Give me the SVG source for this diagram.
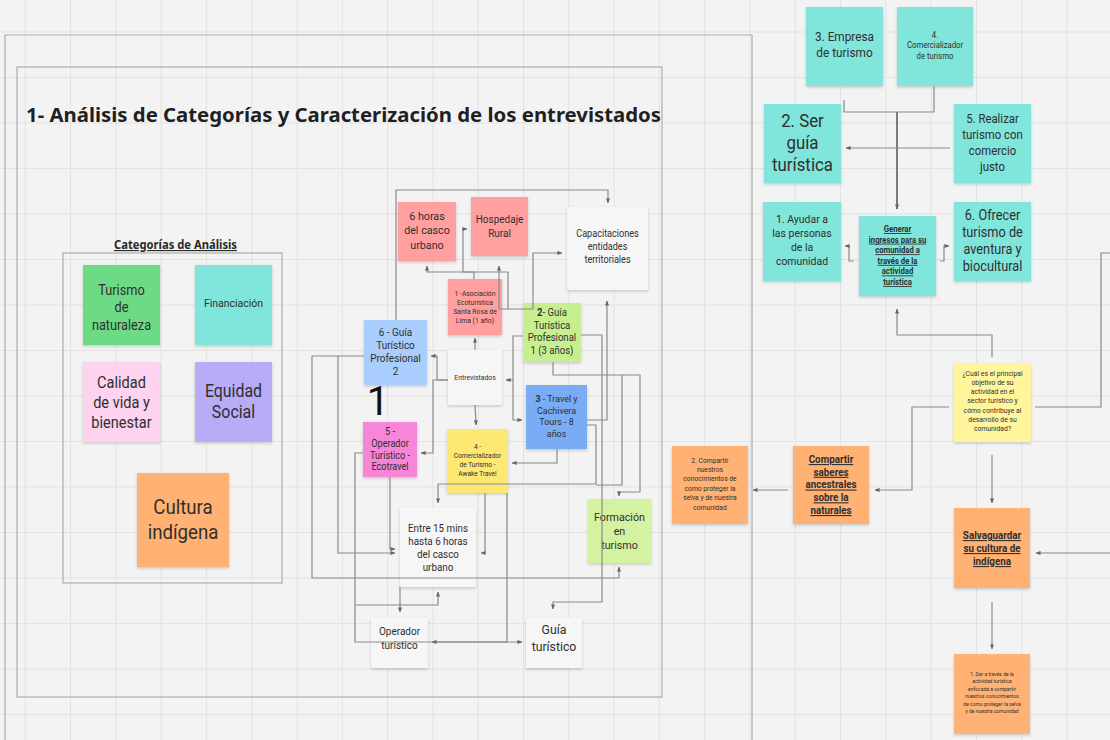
<svg xmlns="http://www.w3.org/2000/svg" width="1110" height="740" viewBox="0 0 1110 740">
<style>
.t{font-family:Roboto,"Noto Sans","Liberation Sans",sans-serif;fill:#2f2f2f;text-anchor:middle;transform-box:fill-box;transform-origin:center;transform:scaleX(.91)}
.b{font-weight:bold;text-decoration:underline}
.fr{fill:none;stroke:#adadad;stroke-width:1.2}
.c{fill:none;stroke:#8a8a8a;stroke-width:1.2;marker-end:url(#ah)}
.sh{filter:url(#sh)}
</style>
<defs>
<pattern id="grid" x="24.7" y="31.5" width="45.3" height="45.5" patternUnits="userSpaceOnUse">
<path d="M0 0.5H45.3M0.5 0V45.5" stroke="#e2e2e2" stroke-width="1" fill="none"/>
</pattern>
<filter id="sh" x="-20%" y="-20%" width="140%" height="140%">
<feDropShadow dx="0" dy="1.5" stdDeviation="1.5" flood-color="#000" flood-opacity="0.18"/>
</filter>
<marker id="ah" viewBox="0 0 6 6" refX="5.5" refY="3" markerWidth="5" markerHeight="5" orient="auto-start-reverse" markerUnits="userSpaceOnUse">
<path d="M0 0.5L6 3L0 5.5z" fill="#666"/>
</marker>
</defs>
<rect width="1110" height="740" fill="#f3f3f3"/>
<rect width="1110" height="740" fill="url(#grid)"/>

<g id="frames">
<path class="fr" d="M5 745V35H752V745"/>
<rect class="fr" x="17" y="67" width="645" height="630"/>
<rect class="fr" x="63" y="253" width="219" height="330"/>
</g>

<text x="26" y="122" font-family="Noto Sans, Open Sans, sans-serif" font-weight="bold" font-size="20" fill="#1f1f1f" textLength="635" lengthAdjust="spacingAndGlyphs">1- Análisis de Categorías y Caracterización de los entrevistados</text>
<text x="114" y="249" font-family="Noto Sans, Open Sans, sans-serif" font-weight="bold" font-size="11.5" fill="#2a2a2a" text-decoration="underline" textLength="123" lengthAdjust="spacingAndGlyphs">Categorías de Análisis</text>

<g id="n-turismo-naturaleza"><rect class="sh" x="83" y="265" width="77" height="80" fill="#6ddb85"/>
<text class="t" font-size="14"><tspan x="121.5" y="295">Turismo</tspan><tspan x="121.5" y="312.5">de</tspan><tspan x="121.5" y="330">naturaleza</tspan></text></g>
<g id="n-financiacion"><rect class="sh" x="195" y="265" width="77" height="80" fill="#80e5db"/>
<text class="t" font-size="11.5"><tspan x="233.5" y="307">Financiación</tspan></text></g>
<g id="n-calidad"><rect class="sh" x="83" y="362" width="77" height="80" fill="#fdd3f0"/>
<text class="t" font-size="16"><tspan x="121.5" y="388">Calidad</tspan><tspan x="121.5" y="408">de vida y</tspan><tspan x="121.5" y="428">bienestar</tspan></text></g>
<g id="n-equidad"><rect class="sh" x="195" y="362" width="77" height="80" fill="#b8abf8"/>
<text class="t" font-size="17.5"><tspan x="233.5" y="397">Equidad</tspan><tspan x="233.5" y="418">Social</tspan></text></g>
<g id="n-cultura"><rect class="sh" x="137" y="473" width="92" height="94" fill="#ffb273"/>
<text class="t" font-size="20.5"><tspan x="183" y="514">Cultura</tspan><tspan x="183" y="539">indígena</tspan></text></g>

<g id="n-seis-horas"><rect class="sh" x="398" y="202" width="58" height="59" fill="#ff9f9f"/>
<text class="t" font-size="11.8"><tspan x="427" y="220">6 horas</tspan><tspan x="427" y="234.5">del casco</tspan><tspan x="427" y="249">urbano</tspan></text></g>
<g id="n-hospedaje"><rect class="sh" x="471" y="197" width="57" height="59" fill="#ff9f9f"/>
<text class="t" font-size="11"><tspan x="499.5" y="223">Hospedaje</tspan><tspan x="499.5" y="237">Rural</tspan></text></g>
<g id="n-capacitaciones"><rect class="sh" x="567" y="207" width="81" height="83" fill="#f6f6f6"/>
<text class="t" font-size="10"><tspan x="607.5" y="237.5">Capacitaciones</tspan><tspan x="607.5" y="250.5">entidades</tspan><tspan x="607.5" y="263.5">territoriales</tspan></text></g>
<g id="n-asociacion"><rect class="sh" x="448" y="279" width="54" height="56" fill="#ff9f9f"/>
<text class="t" font-size="7.5"><tspan x="475" y="295.6">1 -Asociación</tspan><tspan x="475" y="304.6">Ecoturística</tspan><tspan x="475" y="313.6">Santa Rosa de</tspan><tspan x="475" y="322.6">Lima (1 año)</tspan></text></g>
<g id="n-guia-prof-1"><rect class="sh" x="523" y="303" width="58" height="59" fill="#c7ef8f"/>
<text class="t" font-size="10.5"><tspan x="552" y="316.5"><tspan font-weight="bold">2</tspan>- Guía</tspan><tspan x="552" y="329">Turística</tspan><tspan x="552" y="341.5">Profesional</tspan><tspan x="552" y="354">1 (3 años)</tspan></text></g>
<g id="n-seis-guia"><rect class="sh" x="364" y="320" width="63" height="65" fill="#a9cdfc"/>
<text class="t" font-size="11"><tspan x="395.5" y="336">6 - Guía</tspan><tspan x="395.5" y="349">Turístico</tspan><tspan x="395.5" y="362">Profesional</tspan><tspan x="395.5" y="375">2</tspan></text></g>
<g id="n-entrevistados"><rect class="sh" x="448" y="350" width="54" height="55" fill="#f6f6f6"/>
<text class="t" font-size="7.5"><tspan x="475" y="380">Entrevistados</tspan></text></g>
<g id="n-travel"><rect class="sh" x="526" y="385" width="61" height="64" fill="#7aabf5"/>
<text class="t" font-size="9.8"><tspan x="556.5" y="402"><tspan font-weight="bold">3</tspan> - Travel y</tspan><tspan x="556.5" y="413.7">Cachivera</tspan><tspan x="556.5" y="425.4">Tours - 8</tspan><tspan x="556.5" y="437.1">años</tspan></text></g>
<text x="378" y="415" font-family="Roboto, Noto Sans, sans-serif" font-size="40" fill="#111" text-anchor="middle">1</text>
<g id="n-ecotravel"><rect class="sh" x="363" y="422" width="54" height="55" fill="#f786d9"/>
<text class="t" font-size="10"><tspan x="390" y="435">5 -</tspan><tspan x="390" y="446.8">Operador</tspan><tspan x="390" y="458.6">Turístico -</tspan><tspan x="390" y="470.4">Ecotravel</tspan></text></g>
<g id="n-awake"><rect class="sh" x="447" y="429" width="61" height="64" fill="#fde873"/>
<text class="t" font-size="7.2"><tspan x="477.5" y="449.5">4 -</tspan><tspan x="477.5" y="458.2">Comercializador</tspan><tspan x="477.5" y="466.9">de Turismo -</tspan><tspan x="477.5" y="475.6">Awake Travel</tspan></text></g>
<g id="n-entre15"><rect class="sh" x="400" y="508" width="76" height="79" fill="#f6f6f6"/>
<text class="t" font-size="10.8"><tspan x="438" y="532">Entre 15 mins</tspan><tspan x="438" y="545">hasta 6 horas</tspan><tspan x="438" y="558">del casco</tspan><tspan x="438" y="571">urbano</tspan></text></g>
<g id="n-formacion"><rect class="sh" x="588" y="499" width="63" height="64" fill="#d5f2a1"/>
<text class="t" font-size="11.8"><tspan x="619.5" y="521">Formación</tspan><tspan x="619.5" y="535">en</tspan><tspan x="619.5" y="549">turismo</tspan></text></g>
<g id="n-operador-turistico"><rect class="sh" x="371" y="618" width="57" height="50" fill="#f6f6f6"/>
<text class="t" font-size="11"><tspan x="399.5" y="635">Operador</tspan><tspan x="399.5" y="649">turístico</tspan></text></g>
<g id="n-guia-turistico"><rect class="sh" x="526" y="618" width="56" height="50" fill="#f6f6f6"/>
<text class="t" font-size="13.5"><tspan x="554" y="634">Guía</tspan><tspan x="554" y="651">turístico</tspan></text></g>

<g id="n-empresa"><rect class="sh" x="806" y="7" width="77" height="79" fill="#80e5db"/>
<text class="t" font-size="13"><tspan x="844.5" y="41.5">3. Empresa</tspan><tspan x="844.5" y="57.5">de turismo</tspan></text></g>
<g id="n-comercializador"><rect class="sh" x="897" y="7" width="76" height="79" fill="#80e5db"/>
<text class="t" font-size="8.5"><tspan x="935" y="38">4.</tspan><tspan x="935" y="48.5">Comercializador</tspan><tspan x="935" y="59">de turismo</tspan></text></g>
<g id="n-ser-guia"><rect class="sh" x="764" y="104" width="77" height="79" fill="#80e5db"/>
<text class="t" font-size="18.5"><tspan x="802.5" y="127.5">2. Ser</tspan><tspan x="802.5" y="149.5">guía</tspan><tspan x="802.5" y="171.5">turística</tspan></text></g>
<g id="n-realizar"><rect class="sh" x="954" y="104" width="77" height="79" fill="#80e5db"/>
<text class="t" font-size="12.5"><tspan x="992.5" y="123.5">5. Realizar</tspan><tspan x="992.5" y="139.2">turismo con</tspan><tspan x="992.5" y="154.9">comercio</tspan><tspan x="992.5" y="170.6">justo</tspan></text></g>
<g id="n-ayudar"><rect class="sh" x="763" y="202" width="78" height="79" fill="#80e5db"/>
<text class="t" font-size="11.5"><tspan x="802" y="223">1. Ayudar a</tspan><tspan x="802" y="237">las personas</tspan><tspan x="802" y="251">de la</tspan><tspan x="802" y="265">comunidad</tspan></text></g>
<g id="n-generar"><rect class="sh" x="859" y="216" width="77" height="80" fill="#80e5db"/>
<text class="t b" font-size="8.5"><tspan x="897.5" y="232">Generar</tspan><tspan x="897.5" y="242.6">ingresos para su</tspan><tspan x="897.5" y="253.2">comunidad a</tspan><tspan x="897.5" y="263.8">través de la</tspan><tspan x="897.5" y="274.4">actividad</tspan><tspan x="897.5" y="285">turística</tspan></text></g>
<g id="n-ofrecer"><rect class="sh" x="954" y="202" width="77" height="79" fill="#80e5db"/>
<text class="t" font-size="14"><tspan x="992.5" y="220">6. Ofrecer</tspan><tspan x="992.5" y="237">turismo de</tspan><tspan x="992.5" y="254">aventura y</tspan><tspan x="992.5" y="271">biocultural</tspan></text></g>
<g id="n-pregunta"><rect class="sh" x="954" y="363" width="77" height="79" fill="#fff59d"/>
<text class="t" font-size="7.5"><tspan x="992.5" y="375.6">¿Cuál es el principal</tspan><tspan x="992.5" y="384.9">objetivo de su</tspan><tspan x="992.5" y="394.2">actividad  en el</tspan><tspan x="992.5" y="403.5">sector turístico y</tspan><tspan x="992.5" y="412.8">cómo contribuye al</tspan><tspan x="992.5" y="422.1">desarrollo de su</tspan><tspan x="992.5" y="431.4">comunidad?</tspan></text></g>
<g id="n-compartir-saberes"><rect class="sh" x="793" y="446" width="76" height="78" fill="#ffb273"/>
<text class="t b" font-size="10.8"><tspan x="831" y="463">Compartir</tspan><tspan x="831" y="475.75">saberes</tspan><tspan x="831" y="488.5">ancestrales</tspan><tspan x="831" y="501.25">sobre la</tspan><tspan x="831" y="514">naturales</tspan></text></g>
<g id="n-compartir-conocimientos"><rect class="sh" x="672" y="446" width="76" height="78" fill="#ffb273"/>
<text class="t" font-size="7.4"><tspan x="710" y="462.6">2. Compartir</tspan><tspan x="710" y="472">nuestros</tspan><tspan x="710" y="481.4">conocimientos de</tspan><tspan x="710" y="490.8">como proteger la</tspan><tspan x="710" y="500.2">selva y de nuestra</tspan><tspan x="710" y="509.6">comunidad</tspan></text></g>
<g id="n-salvaguardar"><rect class="sh" x="954" y="508" width="76" height="80" fill="#ffb273"/>
<text class="t b" font-size="10.8"><tspan x="992" y="539">Salvaguardar</tspan><tspan x="992" y="552">su cultura de</tspan><tspan x="992" y="565">indígena</tspan></text></g>
<g id="n-dar"><rect class="sh" x="954" y="654" width="76" height="80" fill="#ffb273"/>
<text class="t" font-size="5.5"><tspan x="992" y="676">1. Dar a través de la</tspan><tspan x="992" y="683.4">actividad turística</tspan><tspan x="992" y="690.8">enfocada a compartir</tspan><tspan x="992" y="698.2">nuestros conocimientos</tspan><tspan x="992" y="705.6">de como proteger la selva</tspan><tspan x="992" y="713">y de nuestra comunidad</tspan></text></g>

<g id="connectors">
<polyline class="c" style="marker-end:none" points="844,100 844,112 934,112 934,86"/>
<polyline class="c" style="stroke:#7a7a7a;stroke-width:2" points="897,112 897,209"/>
<polyline class="c" points="950,148 846,148"/>
<polyline class="c" points="854,261 849,261 849,246 845,246"/>
<polyline class="c" points="940,261 944,261 944,246 949,246"/>
<polyline class="c" points="992,357 992,335 897,335 897,309"/>
<polyline class="c" points="949,407 912,407 912,490 875,490"/>
<polyline class="c" points="788,490 753,490"/>
<polyline class="c" style="marker-end:none" points="1035,407 1101,407 1101,253 1112,253"/>
<polyline class="c" points="992,455 992,503"/>
<polyline class="c" points="1112,553 1036,553"/>
<polyline class="c" points="992,602 992,649"/>

<polyline class="c" points="396,320 396,190 608,190 608,203"/>
<polyline class="c" points="474,279 474,272 427,272 427,266"/>
<polyline class="c" style="marker-start:url(#ah)" points="467,229 463,229 463,272 508,272 508,309 533,309 533,253 562,253"/>
<polyline class="c" points="508,309 499,309 499,266"/>
<polyline class="c" points="475,350 475,338"/>
<polyline class="c" points="448,380 437,380 437,356 431,356"/>
<polyline class="c" points="448,380 433,380 433,453 421,453"/>
<polyline class="c" points="523,336 513,336 513,380 506,380"/>
<polyline class="c" points="513,380 513,420 522,420"/>
<polyline class="c" points="475,405 476,425"/>
<polyline class="c" points="581,335 602,335 602,602 553,602 553,609"/>
<polyline class="c" points="553,362 553,375 640,375 640,492 619,492 619,496"/>
<polyline class="c" style="marker-end:none" points="622,375 622,485 596,485"/>
<polyline class="c" points="587,420 607,420 607,301"/>
<polyline class="c" points="587,425 596,425 596,484 438,484 438,503"/>
<polyline class="c" points="557,449 557,463 512,463"/>
<polyline class="c" points="364,356 312,356 312,578 619,578 619,567"/>
<polyline class="c" points="338,356 338,553 395,553"/>
<polyline class="c" points="390,477 390,549 395,549"/>
<polyline class="c" points="363,453 355,453 355,642 522,642"/>
<polyline class="c" points="400,587 400,612"/>
<polyline class="c" points="355,605 438,605 438,592"/>
<polyline class="c" points="485,493 485,553 481,553"/>
<polyline class="c" points="507,493 507,642 432,642"/>
</g>
</svg>
